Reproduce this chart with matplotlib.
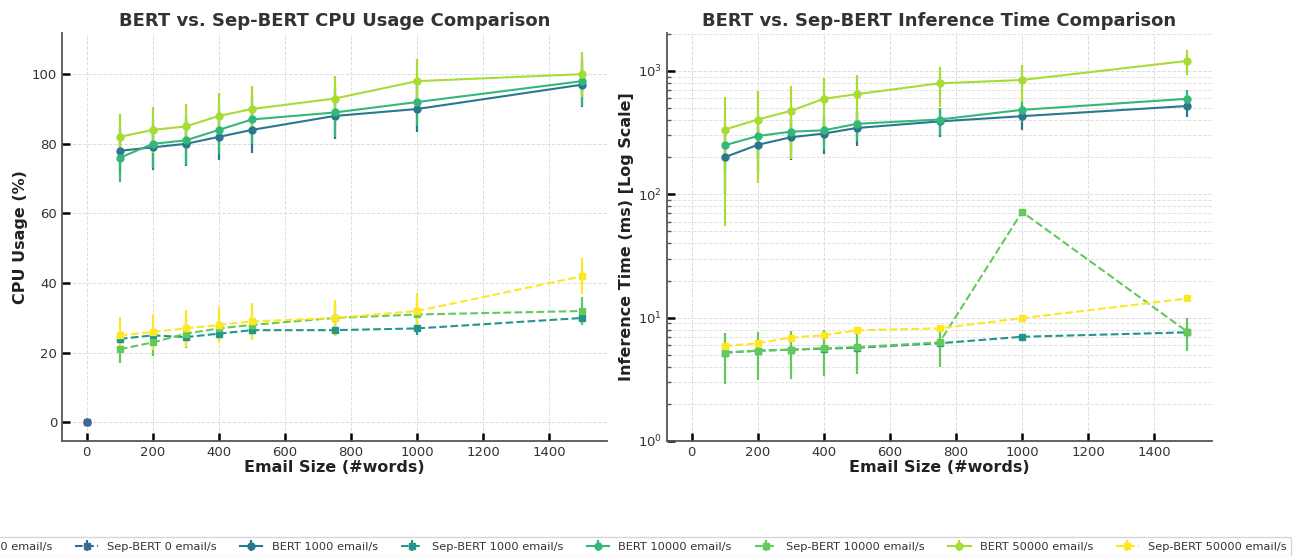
import numpy as np
import matplotlib
matplotlib.use("Agg")
import matplotlib.pyplot as plt

# ---------------- data ----------------
sizes = [100, 200, 300, 400, 500, 750, 1000, 1500]
zero_size = [0]

# CPU usage (%)
cpu_bert_0 = [0]
cpu_sep_0 = [0]
cpu_bert_1000 = [78, 79, 80, 82, 84, 88, 90, 97]
cpu_bert_1000_err = [6.5, 6.5, 6.5, 6.5, 6.5, 6.5, 6.5, 6.5]
cpu_sep_1000 = [24, 25, 24.5, 25.5, 26.5, 26.5, 27, 30]
cpu_sep_1000_err = [1.8, 1.8, 1.8, 1.8, 1.8, 1.8, 1.8, 1.8]
cpu_bert_10000 = [76, 80, 81, 84, 87, 89, 92, 98]
cpu_bert_10000_err = [7, 7, 7, 7, 7, 7, 7, 7]
cpu_sep_10000 = [21, 23, 25.5, 27, 28, 30, 31, 32]
cpu_sep_10000_err = [4, 4, 4, 4, 4, 4, 4, 4]
cpu_bert_50000 = [82, 84, 85, 88, 90, 93, 98, 100]
cpu_bert_50000_err = [6.5, 6.5, 6.5, 6.5, 6.5, 6.5, 6.5, 6.5]
cpu_sep_50000 = [25, 26, 27, 28, 29, 30, 32, 42]
cpu_sep_50000_err = [5.2, 5.2, 5.2, 5.2, 5.2, 5.2, 5.2, 5.2]

# Inference time (ms)
inf_bert_1000 = [200, 252, 290, 311, 345, 390, 430, 520]
inf_bert_1000_err = [100, 100, 100, 100, 100, 100, 100, 100]
inf_sep_1000 = [5.2, 5.4, 5.5, 5.6, 5.7, 6.2, 7.0, 7.6]
inf_sep_1000_err = [0.2, 0.2, 0.2, 0.2, 0.2, 0.2, 0.2, 0.2]
inf_bert_10000 = [250, 297, 322, 330, 373, 404, 484, 595]
inf_bert_10000_err = [100, 100, 100, 100, 100, 100, 100, 100]
inf_sep_10000 = [5.2, 5.4, 5.5, 5.66, 5.77, 6.3, 72, 7.7]
inf_sep_10000_err = [2.3, 2.3, 2.3, 2.3, 2.3, 2.3, 2.3, 2.3]
inf_bert_50000 = [335, 404, 475, 595, 649, 794, 845, 1207]
inf_bert_50000_err = [280, 280, 280, 280, 280, 280, 280, 280]
inf_sep_50000 = [5.9, 6.2, 6.9, 7.2, 7.9, 8.2, 9.9, 14.3]
inf_sep_50000_err = [0.2, 0.2, 0.2, 0.2, 0.2, 0.2, 0.2, 0.2]

labels = ["BERT 0 email/s", "Sep-BERT 0 email/s",
          "BERT 1000 email/s", "Sep-BERT 1000 email/s",
          "BERT 10000 email/s", "Sep-BERT 10000 email/s",
          "BERT 50000 email/s", "Sep-BERT 50000 email/s"]
colors = ["#46327e", "#3b6897", "#2a788e", "#22968b",
          "#35b779", "#63c95a", "#a8db34", "#fde725"]

# ---------------- plotting ----------------
fig = plt.figure(figsize=(13, 5.56), dpi=100)
ax1 = fig.add_axes([62/1300, 1-441/556, 545/1300, 408/556])
ax2 = fig.add_axes([667/1300, 1-441/556, 545/1300, 408/556])

TXT = "#333333"


def series(ax, x, y, e, color, is_sep, label):
    ax.errorbar(x, y, yerr=e, color=color, ecolor=color,
                linestyle="--" if is_sep else "-",
                marker="s" if is_sep else "o", markersize=5,
                linewidth=1.5, elinewidth=1.6, capsize=0, label=label)


cpu = [(zero_size, cpu_bert_0, [0]), (zero_size, cpu_sep_0, [0]),
       (sizes, cpu_bert_1000, cpu_bert_1000_err), (sizes, cpu_sep_1000, cpu_sep_1000_err),
       (sizes, cpu_bert_10000, cpu_bert_10000_err), (sizes, cpu_sep_10000, cpu_sep_10000_err),
       (sizes, cpu_bert_50000, cpu_bert_50000_err), (sizes, cpu_sep_50000, cpu_sep_50000_err)]
inf = [(zero_size, [np.nan], [0]), (zero_size, [np.nan], [0]),
       (sizes, inf_bert_1000, inf_bert_1000_err), (sizes, inf_sep_1000, inf_sep_1000_err),
       (sizes, inf_bert_10000, inf_bert_10000_err), (sizes, inf_sep_10000, inf_sep_10000_err),
       (sizes, inf_bert_50000, inf_bert_50000_err), (sizes, inf_sep_50000, inf_sep_50000_err)]

for i, (x, y, e) in enumerate(cpu):
    series(ax1, x, y, e, colors[i], i % 2 == 1, labels[i])
for i, (x, y, e) in enumerate(inf):
    series(ax2, x, y, e, colors[i], i % 2 == 1, labels[i])

ax2.set_yscale("log")
ax2.set_ylim(bottom=1)
ax2.set_xlim(ax1.get_xlim())

for ax in (ax1, ax2):
    ax.set_xticks([0, 200, 400, 600, 800, 1000, 1200, 1400])
    ax.spines["top"].set_visible(False)
    ax.spines["right"].set_visible(False)
    for s in ("left", "bottom"):
        ax.spines[s].set_color("#555555")
        ax.spines[s].set_linewidth(1.3)
    ax.tick_params(axis="both", which="major", direction="in", length=6,
                   width=1.8, color="black", labelsize=9.5, labelcolor=TXT)
    ax.tick_params(axis="both", which="minor", direction="in", length=3,
                   width=1.0, color="#555555")
    ax.grid(True, which="major", linestyle="--", color="#dddddd", linewidth=0.7)
    ax.set_xlabel("Email Size (#words)", fontsize=11.5, fontweight="bold", color="#222222", labelpad=1)
    ax.set_axisbelow(True)

ax2.grid(True, which="minor", linestyle="--", color="#e2e2e2", linewidth=0.7)

ax1.set_ylabel("CPU Usage (%)", fontsize=11.5, fontweight="bold", color="#222222", labelpad=3)
ax2.set_ylabel("Inference Time (ms) [Log Scale]", fontsize=11.5, fontweight="bold", color="#222222", labelpad=3)
ax1.set_title("BERT vs. Sep-BERT CPU Usage Comparison", fontsize=13,
              fontweight="bold", color=TXT, pad=5)
ax2.set_title("BERT vs. Sep-BERT Inference Time Comparison", fontsize=13,
              fontweight="bold", color=TXT, pad=5)

handles, labs = ax1.get_legend_handles_labels()
leg = fig.legend(handles, labs, loc="upper right", ncol=8,
                 bbox_to_anchor=(1291/1300, 1-537/556), fontsize=8.2,
                 frameon=True, edgecolor="#cccccc", fancybox=True,
                 borderaxespad=0, columnspacing=2.0, handlelength=2.0)
for t in leg.get_texts():
    t.set_color(TXT)

fig.savefig("out.png", dpi=100)
